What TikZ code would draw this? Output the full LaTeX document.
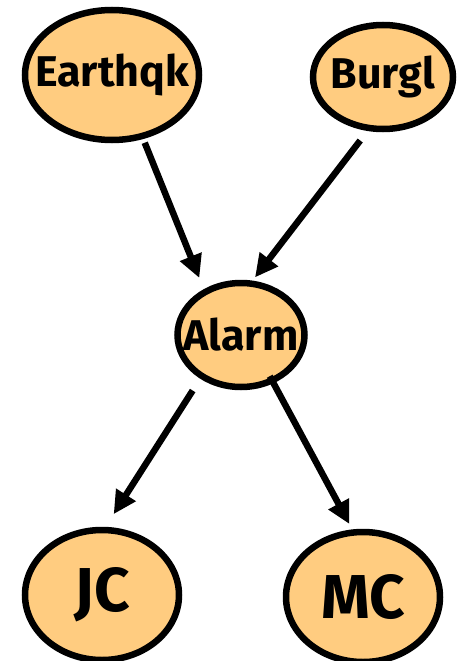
\documentclass[tikz,border=0pt]{standalone}
\usepackage{fontspec}
\setmainfont{Fira Sans}
\usetikzlibrary{arrows.meta,positioning,shapes.geometric}
\definecolor{nodefill}{HTML}{FFCC80}

\begin{document}
\begin{tikzpicture}[x=1pt,y=1pt,on grid,var/.style={ellipse,draw,line width=6.5pt,fill=nodefill,inner sep=0pt,font=\fontsize{43}{43}\selectfont\bfseries},big/.style={var,minimum width=154pt,minimum height=130pt,font=\fontsize{62}{62}\selectfont\bfseries},arr/.style={-{Triangle[length=23pt,width=22pt]},line width=6.5pt}]
\useasboundingbox (0,0) rectangle (461,-661);
\node[var,minimum width=174pt,minimum height=130pt] (eq) at (112,-75) {\makebox[0pt]{Earthqk}};
\node[var,minimum width=140pt,minimum height=104pt,below right=2pt and 271pt of eq] (bg) {\makebox[0pt]{Burgl}};
\node[var,minimum width=127pt,minimum height=104pt,below right=260pt and 129pt of eq] (al) {\makebox[0pt]{Alarm}};
\node[big,below left=260pt and 139pt of al] (jc) {\makebox[0pt]{\raisebox{-6pt}{JC}}};
\node[big,below right=262pt and 122pt of al] (mc) {\makebox[0pt]{\raisebox{-6pt}{MC}}};
\draw[arr,shorten <=4pt,shorten >=12pt] (eq.-64)--(al.129);
\draw[arr,shorten <=12pt,shorten >=4pt] (bg.-106)--(al.78);
\draw[arr,shorten <=14pt,shorten >=15pt] (al.-133)--(jc.87);
\draw[arr,shorten <=-8pt,shorten >=6pt] (al.-56)--(mc.99);
\end{tikzpicture}
\end{document}
